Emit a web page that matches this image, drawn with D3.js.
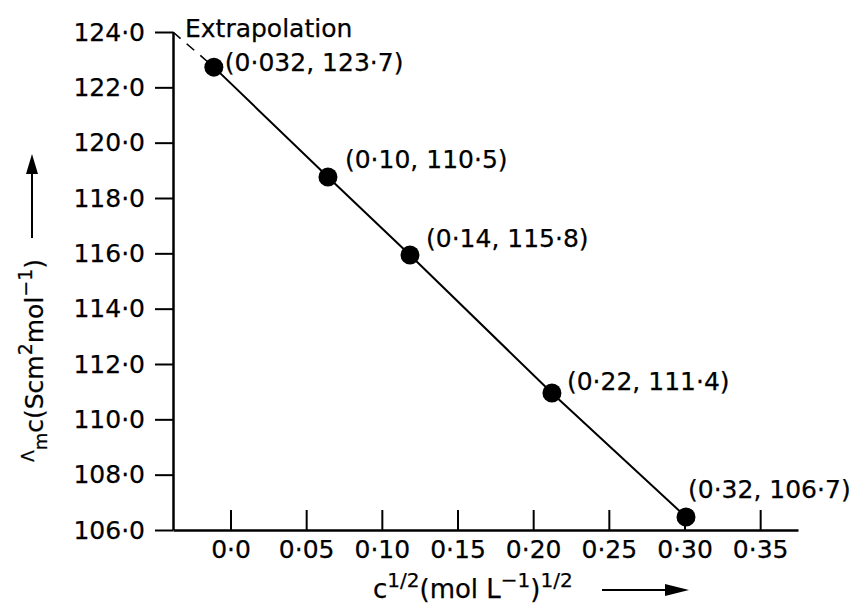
<!DOCTYPE html>
<html>
<head>
<meta charset="utf-8">
<script src="https://cdn.jsdelivr.net/npm/d3@7"></script>
<style>
  html, body { margin: 0; padding: 0; background: #fff; }
  svg { display: block; }
  text { font-family: "DejaVu Sans", "Liberation Sans", Arial, sans-serif; fill: #000; stroke: #000; stroke-width: 0.25; }
</style>
</head>
<body>
<svg id="chart" width="863" height="605"></svg>
<script>
// ---- data ----
const pointX = [-0.011, 0.0644, 0.1186, 0.2124, 0.301];
const pointY = [122.73, 118.76, 115.94, 110.95, 106.47];
const pointLabels = ["(0·032, 123·7)", "(0·10, 110·5)", "(0·14, 115·8)", "(0·22, 111·4)", "(0·32, 106·7)"];
const extrapX = -0.038;
const extrapY = 124.0;
const extrapLabel = "Extrapolation";
const xTicks = [0, 0.05, 0.10, 0.15, 0.20, 0.25, 0.30, 0.35];
const xTickLabels = ["0·0", "0·05", "0·10", "0·15", "0·20", "0·25", "0·30", "0·35"];
const yTicks = [106, 108, 110, 112, 114, 116, 118, 120, 122, 124];
const yTickLabels = ["106·0", "108·0", "110·0", "112·0", "114·0", "116·0", "118·0", "120·0", "122·0", "124·0"];

// ---- layout ----
const labelOffsets = [[11, 4], [17, -9], [16, -8], [15, -3], [2, -19]];
const svg = d3.select("#chart");
const x = d3.scaleLinear().domain([-0.038, 0.375]).range([173, 798]);
const y = d3.scaleLinear().domain([106, 124]).range([530, 32]);
const FS = 25;

// axes
const xAxis = d3.axisBottom(x)
  .tickValues(xTicks)
  .tickFormat((d, i) => xTickLabels[i])
  .tickSizeInner(-20).tickSizeOuter(0).tickPadding(10);
const gx = svg.append("g").attr("transform", `translate(0,${y(106)})`).call(xAxis);
gx.select(".domain").attr("stroke", "#000").attr("stroke-width", 2.5);
gx.selectAll(".tick line").attr("stroke", "#000").attr("stroke-width", 2);
gx.selectAll(".tick text").attr("font-size", FS).attr("font-family", null).attr("fill", "#000");

const yAxis = d3.axisLeft(y)
  .tickValues(yTicks)
  .tickFormat((d, i) => yTickLabels[i])
  .tickSizeInner(18).tickSizeOuter(0).tickPadding(10);
const gy = svg.append("g").attr("transform", `translate(${x(-0.038)},0)`).call(yAxis);
gy.select(".domain").attr("stroke", "#000").attr("stroke-width", 2.5);
gy.selectAll(".tick line").attr("stroke", "#000").attr("stroke-width", 2);
gy.selectAll(".tick text").attr("font-size", FS).attr("font-family", null).attr("fill", "#000");

// extrapolation dashed line
svg.append("line")
  .attr("x1", x(extrapX)).attr("y1", y(extrapY))
  .attr("x2", x(pointX[0])).attr("y2", y(pointY[0]))
  .attr("stroke", "#000").attr("stroke-width", 1.6)
  .attr("stroke-dasharray", "10,8");

// data line
const pts = pointX.map((v, i) => [v, pointY[i]]);
svg.append("path")
  .datum(pts)
  .attr("fill", "none").attr("stroke", "#000").attr("stroke-width", 2)
  .attr("d", d3.line().x(d => x(d[0])).y(d => y(d[1])));

// dots
svg.selectAll("circle.pt").data(pts).enter().append("circle")
  .attr("class", "pt")
  .attr("cx", d => x(d[0])).attr("cy", d => y(d[1]))
  .attr("r", 9.5).attr("fill", "#000");

// point labels
svg.selectAll("text.pl").data(pts).enter().append("text")
  .attr("class", "pl")
  .attr("x", (d, i) => x(d[0]) + labelOffsets[i][0])
  .attr("y", (d, i) => y(d[1]) + labelOffsets[i][1])
  .attr("font-size", FS)
  .text((d, i) => pointLabels[i]);

svg.append("text")
  .attr("x", x(extrapX) + 12).attr("y", y(extrapY) + 5)
  .attr("font-size", FS)
  .text(extrapLabel);

// x-axis title
const xt = svg.append("text").attr("x", 373).attr("y", 598).attr("font-size", 26);
xt.append("tspan").text("c");
xt.append("tspan").attr("font-size", 20).attr("dy", -11).text("1/2");
xt.append("tspan").attr("dy", 11).text("(mol L");
xt.append("tspan").attr("font-size", 20).attr("dy", -11).text("−1");
xt.append("tspan").attr("dy", 11).text(")");
xt.append("tspan").attr("font-size", 20).attr("dy", -11).text("1/2");

// x arrow
svg.append("line").attr("x1", 602).attr("y1", 590).attr("x2", 670).attr("y2", 590)
  .attr("stroke", "#000").attr("stroke-width", 2);
svg.append("path").attr("d", "M665,584L689,590L665,596Z").attr("fill", "#000");

// y-axis title (rotated)
const yt = svg.append("text").attr("transform", "translate(43,462) rotate(-90)").attr("font-size", FS);
yt.append("tspan").attr("font-size", 17).attr("dy", -9).text("Λ");
yt.append("tspan").attr("font-size", 18).attr("dy", 13).text("m");
yt.append("tspan").attr("dy", -4).text("c(Scm");
yt.append("tspan").attr("font-size", 19).attr("dy", -11).text("2");
yt.append("tspan").attr("dy", 11).text("mol");
yt.append("tspan").attr("font-size", 19).attr("dy", -11).text("−1");
yt.append("tspan").attr("dy", 11).text(")");

// y arrow
svg.append("line").attr("x1", 32).attr("y1", 238).attr("x2", 32).attr("y2", 168)
  .attr("stroke", "#000").attr("stroke-width", 2);
svg.append("path").attr("d", "M26,174L32,154L38,174Z").attr("fill", "#000");
</script>
</body>
</html>
